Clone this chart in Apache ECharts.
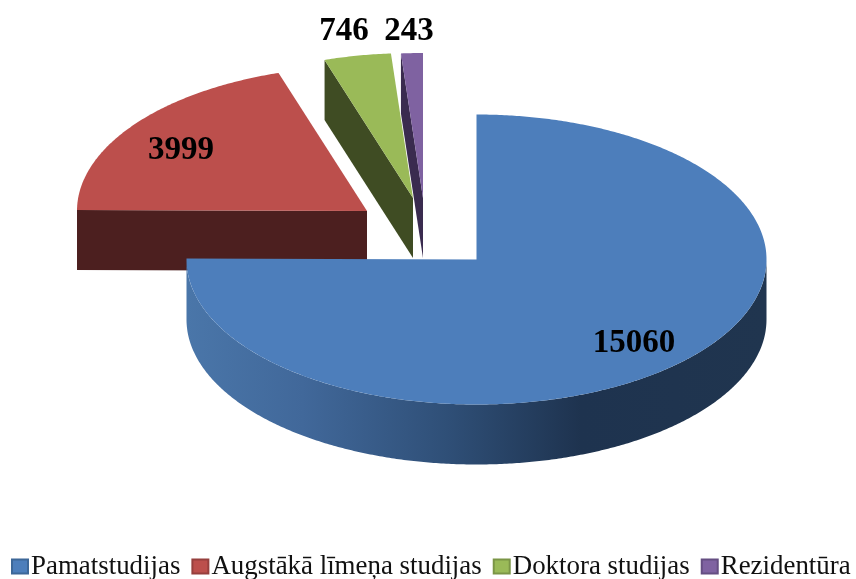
<!DOCTYPE html>
<html>
<head>
<meta charset="utf-8">
<style>html,body{margin:0;padding:0;background:#fff}#c{width:856px;height:579px}</style>
<script src="https://cdn.jsdelivr.net/npm/echarts@6/dist/echarts.min.js"></script>
</head>
<body>
<div id="c"></div>
<script>
var categories = ['Pamatstudijas', 'Augstākā līmeņa studijas', 'Doktora studijas', 'Rezidentūra'];
var values = [15060, 3999, 746, 243];
var topColors = ['#4d7ebb', '#bc4f4c', '#9aba58', '#7f62a1'];
var sideColors = ['#2f5078', '#4c1f1f', '#3f4c23', '#3a2b4f'];
var swatchBorders = ['#3d6798', '#963f3d', '#7b9546', '#654e82'];
var sliceTips = [[476.5, 259.5], [367, 211], [413, 198], [423, 198]];
var labelCenters = [[634, 343], [181, 150], [344, 31], [409, 31]];

var RX = 290, RY = 145, DEPTH = 60;
var total = values.reduce(function (s, v) { return s + v; }, 0);
var rad = Math.PI / 180;

function rim(c, a, dy) {
  return [c[0] + RX * Math.sin(a * rad), c[1] - RY * Math.cos(a * rad) + (dy || 0)];
}
function arc(c, a0, a1, dy) {
  var pts = [], n = Math.max(2, Math.ceil(Math.abs(a1 - a0) * 2));
  for (var i = 0; i <= n; i++) pts.push(rim(c, a0 + (a1 - a0) * i / n, dy));
  return pts;
}
function poly(points, fill, z2) {
  return { type: 'polygon', z2: z2, shape: { points: points }, style: { fill: fill } };
}
function radialFace(c, a, fill) {
  var p = rim(c, a);
  return poly([c, p, [p[0], p[1] + DEPTH], [c[0], c[1] + DEPTH]], fill, 1);
}

function renderSlice(index) {
  var start = 0;
  for (var i = 0; i < index; i++) start += values[i] / total * 360;
  var end = start + values[index] / total * 360;
  var c = sliceTips[index];
  var side = sideColors[index];
  var children = [];

  if (Math.cos((start - 90) * rad) < -1e-6) children.push(radialFace(c, start, side));
  if (Math.cos((end + 90) * rad) < -1e-6) children.push(radialFace(c, end, side));

  var w0 = Math.max(start, 90), w1 = Math.min(end, 270);
  if (w1 > w0) {
    var wall = arc(c, w0, w1, 0).concat(arc(c, w1, w0, DEPTH));
    var fill = index === 0 ? new echarts.graphic.LinearGradient(c[0] - RX, 0, c[0] + RX, 0, [
      { offset: 0, color: '#4a76a9' },
      { offset: 0.2, color: '#41689a' },
      { offset: 0.45, color: '#2f4f77' },
      { offset: 0.68, color: '#1e334f' },
      { offset: 1, color: '#20354f' }
    ], true) : side;
    children.push(poly(wall, fill, 2));
  }

  children.push(poly([c].concat(arc(c, start, end, 0)), topColors[index], 3));
  children.push({
    type: 'text', z2: 4, x: labelCenters[index][0], y: labelCenters[index][1],
    style: {
      text: String(values[index]), fill: '#000', align: 'center', verticalAlign: 'middle',
      font: 'bold 33px "Liberation Serif"'
    }
  });
  return { type: 'group', children: children };
}

var chart = echarts.init(document.getElementById('c'), null, { renderer: 'canvas' });
chart.setOption({
  animation: false,
  backgroundColor: '#fff',
  legend: {
    data: categories,
    left: 6, top: 548, width: 1000,
    orient: 'horizontal',
    itemWidth: 16, itemHeight: 14, itemGap: 11,
    icon: 'rect',
    textStyle: { fontFamily: 'Liberation Serif', fontSize: 26.9, color: '#111', padding: [2, 0, 0, -2] },
    selectedMode: false
  },
  series: categories.map(function (name, i) {
    return {
      type: 'custom',
      name: name,
      coordinateSystem: 'none',
      z: 10 - i,
      silent: true,
      itemStyle: { color: topColors[i], borderColor: swatchBorders[i], borderWidth: 1.5 },
      data: [values[i]],
      renderItem: function () { return renderSlice(i); }
    };
  })
});
</script>
</body>
</html>
